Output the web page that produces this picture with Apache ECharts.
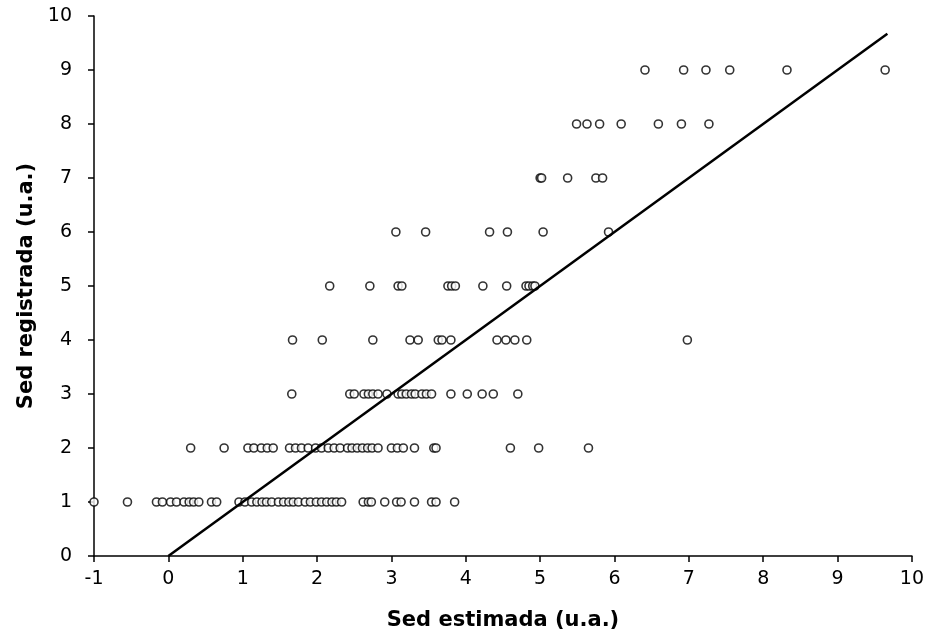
<!DOCTYPE html>
<html>
<head>
<meta charset="utf-8">
<script src="https://cdn.jsdelivr.net/npm/echarts@6/dist/echarts.min.js"></script>
<style>
html,body{margin:0;padding:0;background:#fff;}
#chart{width:927px;height:636px;}
</style>
</head>
<body>
<div id="chart"></div>
<script>
// Estimated x values ("Sed estimada") for each observed y level ("Sed registrada")
var xAtY1 = [-1.0,-0.55,-0.16,-0.08,0.03,0.11,0.21,0.28,0.34,0.41,0.58,0.65,0.95,1.03,1.12,1.19,1.26,1.32,1.39,1.48,1.55,1.62,1.68,1.75,1.84,1.91,1.99,2.06,2.13,2.2,2.26,2.33,2.62,2.69,2.73,2.91,3.07,3.13,3.31,3.54,3.6,3.85];
var xAtY2 = [0.3,0.75,1.07,1.15,1.25,1.33,1.41,1.63,1.71,1.79,1.88,1.98,2.06,2.15,2.23,2.31,2.41,2.47,2.54,2.61,2.68,2.74,2.82,3.0,3.08,3.16,3.31,3.57,3.6,4.6,4.98,5.65];
var xAtY3 = [1.66,2.44,2.5,2.63,2.69,2.75,2.82,2.94,3.09,3.14,3.2,3.27,3.32,3.41,3.47,3.54,3.8,4.02,4.22,4.37,4.7];
var xAtY4 = [1.67,2.07,2.75,3.25,3.36,3.63,3.68,3.8,4.42,4.54,4.66,4.82,6.98];
var xAtY5 = [2.17,2.71,3.09,3.14,3.76,3.81,3.86,4.23,4.55,4.81,4.85,4.9,4.93];
var xAtY6 = [3.06,3.46,4.32,4.56,5.04,5.92];
var xAtY7 = [5.0,5.02,5.37,5.75,5.84];
var xAtY8 = [5.49,5.63,5.8,6.09,6.59,6.9,7.27];
var xAtY9 = [6.41,6.93,7.23,7.55,8.32,9.64];
var levels = [1,2,3,4,5,6,7,8,9];
var trendLine = [[0,0],[9.67,9.67]];
var xTicks = {min:-1, max:10, interval:1};
var yTicks = {min:0, max:10, interval:1};

var rows = [xAtY1,xAtY2,xAtY3,xAtY4,xAtY5,xAtY6,xAtY7,xAtY8,xAtY9];
var points = [];
rows.forEach(function(arr, i){
  arr.forEach(function(x){ points.push([x, levels[i]]); });
});

var font = 'DejaVu Sans, Verdana, sans-serif';
var chart = echarts.init(document.getElementById('chart'), null, {renderer:'canvas'});
chart.setOption({
  animation:false,
  backgroundColor:'#fff',
  grid:{left:94, right:12, top:16, bottom:80, containLabel:false},
  xAxis:{
    type:'value', min:xTicks.min, max:xTicks.max, interval:xTicks.interval,
    name:'Sed estimada (u.a.)', nameLocation:'middle', nameGap:54,
    nameTextStyle:{fontFamily:font, fontSize:21, fontWeight:'bold', color:'#000'},
    axisLine:{onZero:false, lineStyle:{color:'#000', width:1.5}},
    axisTick:{show:true, inside:false, length:6, lineStyle:{color:'#000', width:1.5}},
    axisLabel:{fontFamily:font, fontSize:19, color:'#000', margin:14},
    splitLine:{show:false}
  },
  yAxis:{
    type:'value', min:yTicks.min, max:yTicks.max, interval:yTicks.interval,
    name:'Sed registrada (u.a.)', nameLocation:'middle', nameGap:46, nameRotate:90,
    nameTextStyle:{fontFamily:font, fontSize:21, fontWeight:'bold', color:'#000'},
    axisLine:{show:true, onZero:false, lineStyle:{color:'#000', width:1.5}},
    axisTick:{show:true, inside:false, length:6, lineStyle:{color:'#000', width:1.5}},
    axisLabel:{fontFamily:font, fontSize:19, color:'#000', margin:22},
    splitLine:{show:false}
  },
  series:[
    {
      type:'scatter', data:points, symbol:'circle', symbolSize:8,
      itemStyle:{color:'#fff', borderColor:'#000', borderWidth:1.6},
      z:3
    },
    {
      type:'line', data:trendLine, symbol:'none',
      lineStyle:{color:'#000', width:2.5}, z:4
    }
  ]
});
</script>
</body>
</html>
